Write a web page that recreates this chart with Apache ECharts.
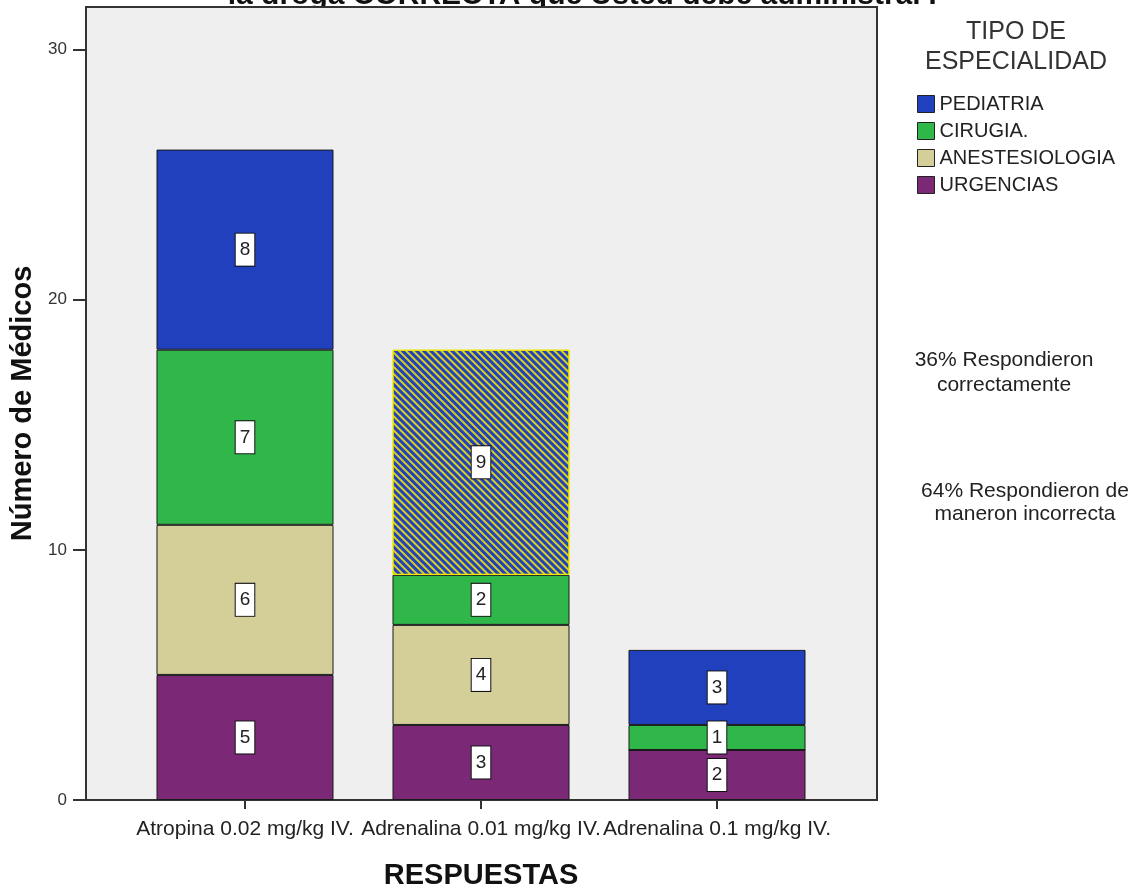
<!DOCTYPE html>
<html>
<head>
<meta charset="utf-8">
<script src="https://cdn.jsdelivr.net/npm/echarts@6/dist/echarts.min.js"></script>
<style>
  html, body { margin: 0; padding: 0; background: #ffffff; }
  #chart { width: 1139px; height: 888px; }
</style>
</head>
<body>
<div id="chart"></div>
<script>
// Respuestas y número de médicos por especialidad
const categories = ['Atropina 0.02 mg/kg IV.', 'Adrenalina 0.01 mg/kg IV.', 'Adrenalina 0.1 mg/kg IV.'];
const urgencias = [5, 3, 2];
const anestesiologia = [6, 4, 0];
const cirugia = [7, 2, 1];
const pediatria = [8, 9, 3];
const yTicks = [0, 10, 20, 30];
const legendTitle = 'TIPO DE\nESPECIALIDAD';
const noteCorrect = '36% Respondieron\ncorrectamente';
const noteWrong = '64% Respondieron de\nmaneron incorrecta';
const titleLine = 'la droga CORRECTA que Usted debe administrar?';
// respuesta correcta: su segmento superior se destaca con trama
const highlighted = { series: 'PEDIATRIA', index: 1 };

const colors = {
  PEDIATRIA: '#2140bd',
  'CIRUGIA.': '#2fb74a',
  ANESTESIOLOGIA: '#d4ce98',
  URGENCIAS: '#7b2877'
};

const sans = '"Liberation Sans", Arial, sans-serif';

const segLabel = {
  show: true,
  position: 'inside',
  color: '#222',
  fontFamily: sans,
  fontSize: 19,
  backgroundColor: '#ffffff',
  borderColor: '#111',
  borderWidth: 1,
  padding: [7, 4, 6, 4]
};

function makeSeries(name, values) {
  return {
    name: name,
    type: 'bar',
    stack: 'total',
    xAxisIndex: 1,
    yAxisIndex: 1,
    barCategoryGap: '25%',
    itemStyle: { color: colors[name], borderColor: '#1a1a1a', borderWidth: 1 },
    label: segLabel,
    emphasis: { disabled: true },
    data: values.map(function (v, i) {
      const item = { value: v };
      if (v === 0) item.label = { show: false };
      if (name === highlighted.series && i === highlighted.index) {
        item.itemStyle = {
          color: colors[name],
          borderColor: '#f2ea00',
          borderWidth: 1,
          decal: {
            symbol: 'rect',
            color: '#d8d21c',
            dashArrayX: [1, 0],
            dashArrayY: [2, 2.4],
            rotation: Math.PI / 4,
            symbolSize: 1
          }
        };
      }
      return item;
    })
  };
}

const chart = echarts.init(document.getElementById('chart'), null, { renderer: 'canvas' });

const yMax = 31.7;
const gridTop = 7, gridBottom = 88;

chart.setOption({
  backgroundColor: '#ffffff',
  animation: false,
  grid: [
    { left: 86, right: 262, top: gridTop, bottom: gridBottom, show: true, z: 1,
      outerBoundsMode: 'none',
      backgroundColor: '#efefef', borderColor: '#333', borderWidth: 2 },
    { left: 127, right: 304, top: gridTop, bottom: gridBottom, outerBoundsMode: 'none' }
  ],
  xAxis: [
    { type: 'category', gridIndex: 0, data: categories, show: false },
    { type: 'category', gridIndex: 1, data: categories,
      axisLine: { show: false },
      axisTick: { show: true, alignWithLabel: true, length: 9, lineStyle: { color: '#333', width: 2 } },
      axisLabel: { color: '#222', fontFamily: sans, fontSize: 21, margin: 19, interval: 0 },
      name: 'RESPUESTAS', nameLocation: 'middle', nameGap: 61,
      nameTextStyle: { color: '#111', fontFamily: sans, fontWeight: 'bold', fontSize: 29 } }
  ],
  yAxis: [
    { type: 'value', gridIndex: 0, min: 0, max: yMax, interval: 10,
      splitLine: { show: false },
      axisLine: { show: true, lineStyle: { color: '#333', width: 2 } },
      axisTick: { show: true, length: 13, customValues: yTicks, lineStyle: { color: '#333', width: 2 } },
      axisLabel: { color: '#333', fontFamily: sans, fontSize: 17, margin: 19, customValues: yTicks },
      name: 'Número de Médicos', nameLocation: 'middle', nameGap: 41, nameRotate: 90,
      nameTextStyle: { color: '#111', fontFamily: sans, fontWeight: 'bold', fontSize: 29 } },
    { type: 'value', gridIndex: 1, min: 0, max: yMax, show: false }
  ],
  legend: {
    orient: 'vertical',
    left: 917, top: 94, padding: 0,
    itemWidth: 17, itemHeight: 17, itemGap: 7,
    icon: 'rect',
    selectedMode: false,
    textStyle: { color: '#222', fontFamily: sans, fontSize: 20, lineHeight: 20, padding: [0, 0, 0, 0] },
    itemStyle: { borderColor: '#222', borderWidth: 1, decal: 'none' },
    data: ['PEDIATRIA', 'CIRUGIA.', 'ANESTESIOLOGIA', 'URGENCIAS']
  },
  graphic: [
    { type: 'text', x: 585, y: 11, z: -10, style: { text: titleLine, fill: '#111', font: 'bold 30px ' + sans, textAlign: 'center', verticalAlign: 'bottom' } },
    { type: 'text', x: 1016, y: 17, style: { text: legendTitle, fill: '#333', font: '25px ' + sans, textAlign: 'center', lineHeight: 30 } },
    { type: 'text', x: 1004, y: 348, style: { text: noteCorrect, fill: '#222', font: '21px ' + sans, textAlign: 'center', lineHeight: 25 } },
    { type: 'text', x: 1025, y: 480, style: { text: noteWrong, fill: '#222', font: '21px ' + sans, textAlign: 'center', lineHeight: 23 } }
  ],
  series: [
    makeSeries('URGENCIAS', urgencias),
    makeSeries('ANESTESIOLOGIA', anestesiologia),
    makeSeries('CIRUGIA.', cirugia),
    makeSeries('PEDIATRIA', pediatria)
  ]
});
</script>
</body>
</html>
